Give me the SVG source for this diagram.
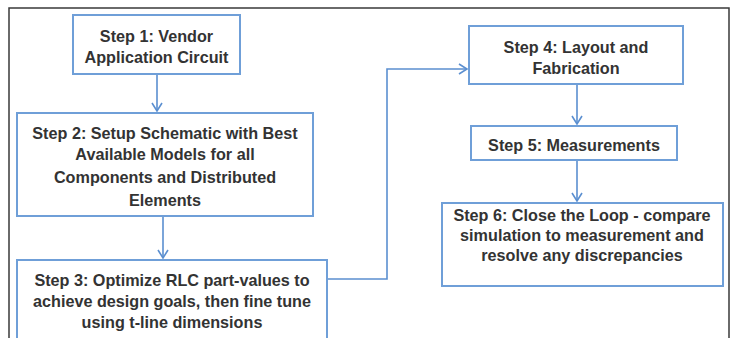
<svg xmlns="http://www.w3.org/2000/svg" width="735" height="338" viewBox="0 0 735 338">
<defs>
<style>
.box{fill:#fff;stroke:#6f9fd8;stroke-width:2}
.t{font-family:"Liberation Sans",Arial,sans-serif;font-weight:bold;font-size:16.2px;fill:#333;text-anchor:middle}
.c{fill:none;stroke:#5b8fd0;stroke-width:1.6}
</style>
<marker id="ah" markerWidth="12" markerHeight="12" viewBox="0 0 12 12" refX="10" refY="6" orient="auto" markerUnits="userSpaceOnUse">
<path d="M2,1 L10,6 L2,11" fill="none" stroke="#5b8fd0" stroke-width="1.6"/>
</marker>
</defs>
<rect x="0" y="0" width="735" height="338" fill="#fff"/>
<path d="M9,340 V8 H729 V340" fill="none" stroke="#3a3a3a" stroke-width="1.5"/>
<g id="connectors">
<path class="c" d="M157,74 V111" marker-end="url(#ah)"/>
<path class="c" d="M163,216 V258" marker-end="url(#ah)"/>
<path class="c" d="M327,279 H387 V69 H467" marker-end="url(#ah)"/>
<path class="c" d="M577,84 V124" marker-end="url(#ah)"/>
<path class="c" d="M577,160 V201" marker-end="url(#ah)"/>
</g>
<g id="step1">
<rect class="box" x="73" y="15" width="167" height="59"/>
<text class="t" x="156.5" y="42">Step 1: Vendor</text>
<text class="t" x="156.5" y="63">Application Circuit</text>
</g>
<g id="step2">
<rect class="box" x="17" y="113" width="296" height="103"/>
<text class="t" x="165" y="139">Step 2: Setup Schematic with Best</text>
<text class="t" x="165" y="160">Available Models for all</text>
<text class="t" x="165" y="183">Components and Distributed</text>
<text class="t" x="165" y="206">Elements</text>
</g>
<g id="step3">
<rect class="box" x="17" y="260" width="310" height="90"/>
<text class="t" x="172" y="286">Step 3: Optimize RLC part-values to</text>
<text class="t" x="172" y="307">achieve design goals, then fine tune</text>
<text class="t" x="172" y="328">using t-line dimensions</text>
</g>
<g id="step4">
<rect class="box" x="469" y="26" width="214" height="58"/>
<text class="t" x="576" y="53">Step 4: Layout and</text>
<text class="t" x="576" y="74">Fabrication</text>
</g>
<g id="step5">
<rect class="box" x="471" y="126" width="206" height="34"/>
<text class="t" x="574" y="151">Step 5: Measurements</text>
</g>
<g id="step6">
<rect class="box" x="442" y="203" width="281" height="83"/>
<text class="t" x="582" y="221">Step 6: Close the Loop - compare</text>
<text class="t" x="582" y="241">simulation to measurement and</text>
<text class="t" x="582" y="261">resolve any discrepancies</text>
</g>
</svg>
